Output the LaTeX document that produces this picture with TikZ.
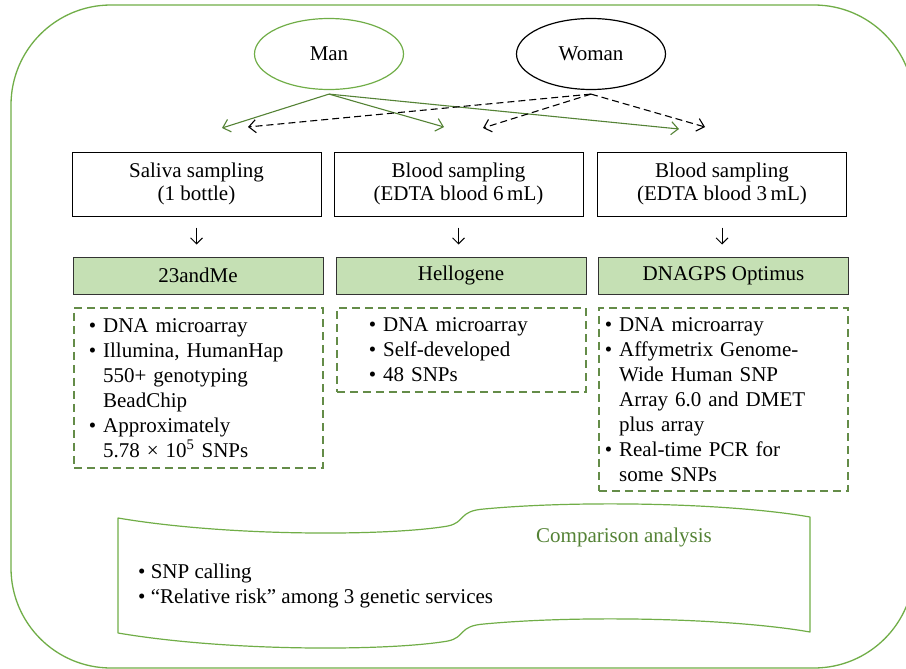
\documentclass[tikz,border=0pt]{standalone}
\usepackage{fontspec}
\setmainfont{Liberation Serif}
\usetikzlibrary{shapes,arrows.meta,positioning}
\usepackage{xcolor}
\definecolor{framegreen}{RGB}{112,173,71}
\definecolor{arrowgreen}{RGB}{84,130,53}
\definecolor{dashgreen}{RGB}{100,140,72}
\definecolor{servicefill}{RGB}{197,224,180}
\newcommand{\bulletitem}{\textbullet~}
\newcommand{\bulletgap}{\hphantom{\textbullet~}}

\begin{document}
\begin{tikzpicture}[x=1pt, y=-1pt, font=\fontsize{21}{25}\selectfont,
    person/.style={ellipse, draw, line width=1.2pt, minimum width=149pt, minimum height=71pt, inner sep=0pt},
    sampling/.style={rectangle, draw, line width=1pt, minimum width=249pt, minimum height=64pt, align=center, inner sep=0pt, font=\fontsize{21}{23}\selectfont},
    service/.style={rectangle, draw=black!80, fill=servicefill, line width=1pt, minimum width=250pt, minimum height=37pt, inner sep=0pt},
    details/.style={rectangle, draw=dashgreen, line width=1.6pt, dash pattern=on 8pt off 5pt, anchor=north west, align=left, inner ysep=0pt},
    manarrow/.style={draw=arrowgreen, line width=1.1pt, -{Straight Barb[length=7pt,width=13pt]}},
    womanarrow/.style={draw=black, line width=1.1pt, dash pattern=on 7pt off 4pt, -{Straight Barb[length=7pt,width=13pt]}},
    downarrow/.style={draw=black, line width=0.9pt, shorten <=11pt, shorten >=12pt, -{Straight Barb[length=6pt,width=12pt]}}]
    \useasboundingbox (0,0) rectangle (906,669);
    % outer frame
    \draw[framegreen, line width=1.3pt, rounded corners=100pt] (11,5) rectangle (914,668);

    \node[person, draw=framegreen] (man) at (329,54) {Man};
    \node[person, draw=black] (woman) at (591,54) {Woman};

    % sampling
    \node[sampling] (saliva) at (196.5,184) {Saliva sampling\\(1 bottle)};
    \node[sampling] (blood6) at (458.5,184) {Blood sampling\\(EDTA blood 6\,mL)};
    \node[sampling] (blood3) at (722,184) {Blood sampling\\(EDTA blood 3\,mL)};

    % arrow ends above the boxes
    \coordinate (mantoa) at (222,128);
    \coordinate (mantob) at (444,127);
    \coordinate (mantoc) at (679,129);
    \coordinate (womantoa) at (248,127);
    \coordinate (womantob) at (483,128);
    \coordinate (womantoc) at (705,127);

    \draw[manarrow] ([yshift=-4pt]man.south) -- (mantoa);
    \draw[manarrow] ([yshift=-4pt]man.south) -- (mantob);
    \draw[manarrow] ([yshift=-4pt]man.south) -- (mantoc);
    \draw[womanarrow] ([yshift=-4pt]woman.south) -- (womantoa);
    \draw[womanarrow] ([yshift=-4pt]woman.south) -- (womantob);
    \draw[womanarrow] ([yshift=-4pt]woman.south) -- (womantoc);

    % services
    \node[service] (tme) at (198,275.5) {23andMe};
    \node[service] (hellogene) at (461,275.5) {Hellogene};
    \node[service] (optimus) at (723.5,275.5) {DNAGPS Optimus};

    \draw[downarrow] (saliva.south) -- (saliva.south |- tme.north);
    \draw[downarrow] (blood6.south) -- (blood6.south |- hellogene.north);
    \draw[downarrow] (blood3.south) -- (blood3.south |- optimus.north);

    % platforms
    \node[details, inner xsep=15pt, text width=219pt, minimum height=160pt] (tmelist) at (73,307)
        {\bulletitem DNA microarray\\
         \bulletitem Illumina, HumanHap\\
         \bulletgap 550+ genotyping\\
         \bulletgap BeadChip\\
         \bulletitem Approximately\\
         \bulletgap 5.78 × 10\textsuperscript{5} SNPs};
    \node[details, inner xsep=32pt, text width=185pt, minimum height=84pt] (hellolist) at (336,307)
        {\bulletitem DNA microarray\\
         \bulletitem Self-developed\\
         \bulletitem 48 SNPs};
    \node[details, inner xsep=6pt, text width=237pt, minimum height=183pt] (optimuslist) at (598,307)
        {\bulletitem DNA microarray\\
         \bulletitem Affymetrix Genome-\\
         \bulletgap Wide Human SNP\\
         \bulletgap Array 6.0 and DMET\\
         \bulletgap plus array\\
         \bulletitem Real-time PCR for\\
         \bulletgap some SNPs};

    % comparison
    \coordinate (analysisnw) at (118,518);
    \coordinate (analysisne) at (810,517);
    \coordinate (analysisse) at (810,632);
    \coordinate (analysissw) at (118,633);
    \draw[framegreen, line width=1.2pt, line join=round]
        (analysisnw) .. controls (230,537) and (390,536) .. (448,526)
        .. controls (466,522) and (458,511) .. (484,509)
        .. controls (580,500) and (730,503) .. (analysisne)
        -- (analysisse)
        .. controls (730,618) and (580,615) .. (484,624)
        .. controls (458,626) and (466,637) .. (448,641)
        .. controls (390,651) and (230,652) .. (analysissw) -- cycle;
    \node[text=arrowgreen] (analysistitle) at (624,537) {Comparison analysis};
    \node[anchor=north west, align=left, inner sep=0pt] (analysislist) at (138,564)
        {\bulletitem SNP calling\\
         \bulletitem “Relative risk” among 3 genetic services};
\end{tikzpicture}
\end{document}
